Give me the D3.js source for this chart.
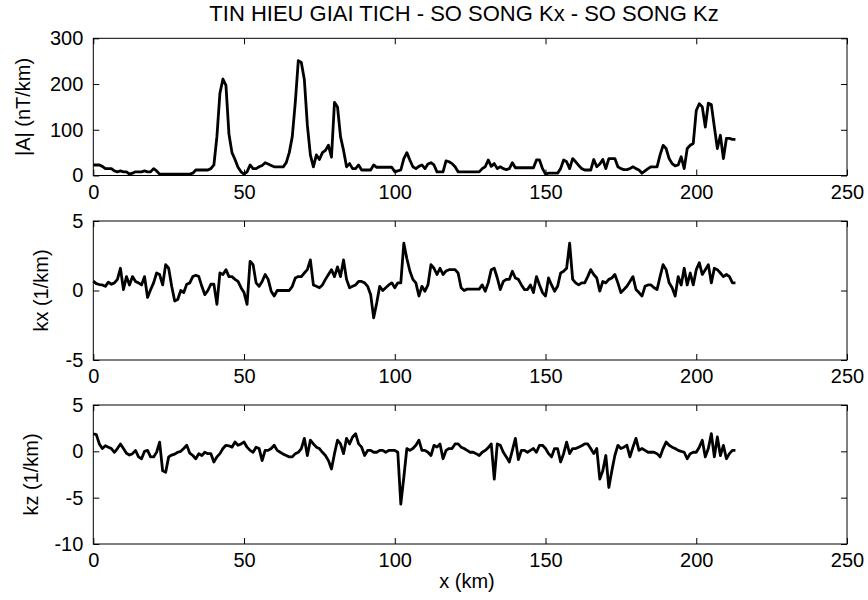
<!DOCTYPE html>
<html>
<head>
<meta charset="utf-8">
<script src="https://cdn.jsdelivr.net/npm/d3@7"></script>
<style>
  html, body { margin: 0; padding: 0; background: #fff; }
  svg text { font-family: "Liberation Sans", Arial, Helvetica, sans-serif; fill: #000; }
</style>
</head>
<body>
<div id="chart"></div>
<script>
// sample spacing along the profile (km)
const sampleStepKm = 1;

// |A| analytic signal amplitude (nT/km), one value per km from 0 to 213
const amplitude = [
  23,23,23,20,15,15,15,10,8,10,
  8,8,3,5,8,8,8,10,8,8,
  15,10,3,3,3,3,3,3,3,3,
  3,3,3,5,12,12,12,12,12,15,
  23,85,180,211,197,90,50,35,18,8,
  3,8,23,15,15,19,22,28,25,22,
  19,19,19,19,28,50,85,160,251,247,
  210,110,45,19,45,35,50,55,66,40,
  160,150,85,55,19,26,15,15,23,12,
  12,12,12,23,18,18,18,18,18,18,
  8,10,12,37,50,34,19,15,20,23,
  15,25,28,23,8,8,8,32,30,26,
  19,8,8,8,8,8,8,8,8,15,
  19,34,20,26,15,19,15,13,15,28,
  17,17,17,17,17,17,17,34,34,15,
  3,5,5,5,5,15,34,30,15,37,
  30,22,15,12,12,12,35,19,25,35,
  15,37,37,37,19,15,13,13,15,19,
  15,12,5,10,15,19,19,19,45,66,
  59,37,26,21,23,41,15,59,66,70,
  142,157,150,106,158,155,106,59,88,37,
  81,81,79,79
];

// kx wavenumber (1/km)
const kx = [
  0.67,0.5,0.43,0.4,0.3,0.6,0.45,0.55,0.8,1.6,
  0.07,1.0,0.4,1.0,0.65,0.55,0.4,1.0,-0.5,0.05,
  0.55,1.26,1.15,0.4,1.86,1.6,0.3,-0.76,-0.65,0.0,
  -0.15,0.45,0.55,1.0,1.1,1.0,0.3,-0.3,0.0,0.45,
  0.45,-1.0,1.26,1.15,1.5,1.0,1.0,0.8,0.65,0.2,
  -0.15,-1.0,2.1,1.86,0.55,0.3,0.65,1.15,0.8,-0.05,
  -0.4,0,0,0,0,0,0.3,0.9,1.0,1.0,
  1.26,1.5,2.2,0.4,0.3,0.2,0.4,0.8,1.15,1.5,
  1.0,1.7,1.0,2.2,0.8,0.2,0.3,0.4,0.65,0.65,
  0.55,0.3,-0.3,-1.96,-0.9,0.3,0.0,0.2,0.4,0.55,
  0.2,0.55,0.55,3.4,2.3,1.4,0.8,0.55,-0.4,0.3,
  -0.05,0.4,1.86,1.6,1.15,1.6,1.15,1.4,1.5,1.5,
  1.5,1.26,0.2,0.0,0.1,0.1,0.1,0.1,0.1,0.4,
  -0.05,0.55,1.5,1.6,0.9,0.07,0.65,0.8,0.8,1.38,
  0.9,0.8,0.4,0.07,0.07,0.4,-0.15,1.0,0.4,-0.15,
  -0.4,0.9,0.4,-0.05,0.3,1.26,1.38,1.6,3.4,0.8,
  0.55,0.4,0.55,0.55,1.0,1.5,1.15,0.9,-0.05,0.65,
  0.55,0.8,0.9,1.15,0.55,-0.15,0.07,0.3,0.65,1.0,
  0.07,-0.15,-0.4,0.3,0.4,0.4,0.2,0.07,1.0,1.86,
  1.5,0.55,0.2,-0.4,1.0,0.4,1.6,0.4,1.26,0.4,
  1.5,2.0,1.15,1.5,1.86,0.55,1.6,1.5,1.26,1.0,
  1.15,1.0,0.55,0.55
];

// kz wavenumber (1/km)
const kz = [
  1.9,1.8,0.8,0.3,0.6,0.45,0.3,-0.1,0.3,0.8,
  0.3,-0.2,-0.4,-0.25,0.1,-0.6,-0.8,0.0,0.1,-0.6,
  -0.6,-0.1,1.0,-2.1,-2.25,-0.6,-0.4,-0.3,-0.1,0.0,
  0.3,0.65,-0.2,-0.45,-0.8,-0.25,-0.45,-0.1,-0.25,-0.25,
  -1.15,-0.6,-0.25,0.3,0.65,0.6,0.45,1.0,0.65,0.8,
  1.0,0.45,0.1,-0.1,0.45,0.3,-1.0,0.1,0.1,0.3,
  0.65,0.1,-0.1,-0.3,-0.45,-0.6,-0.6,-0.25,-0.1,0.3,
  1.4,-0.45,1.2,0.8,0.45,0.3,-0.1,-0.45,-1.0,-1.9,
  -0.25,1.2,0.8,-0.25,1.4,0.8,1.55,1.9,0.8,0.45,
  -0.45,0.1,0.1,-0.1,-0.1,0.1,0.1,-0.1,0.1,0.1,
  0.1,-0.1,-5.7,-2.8,0.3,0.1,0.3,0.65,1.2,0.1,
  0.1,-0.1,-0.45,0.65,0.45,0.8,-0.8,0.1,0.3,0.3,
  0.8,0.8,0.45,0.3,0.1,-0.1,-0.1,-0.25,-0.45,-0.1,
  0.1,0.4,0.8,-3.0,0.8,0.65,-0.1,-0.6,-1.15,0.1,
  1.4,-0.9,0.1,0.1,-0.1,0.1,0.3,-0.1,0.65,0.65,
  0.3,-0.25,-0.6,0.3,0.3,-1.15,-0.25,1.0,-0.25,0.3,
  0.3,0.45,0.6,0.8,0.8,0.3,-0.25,0.3,-3.0,-2.1,
  -0.45,-3.9,-2.1,-0.45,0.65,0.3,0.45,0.65,-0.6,0.45,
  1.4,0.1,0.3,0.1,-0.1,-0.1,-0.1,-0.25,-0.6,0.3,
  1.0,0.65,0.45,0.3,0.1,0.0,-0.1,-0.8,-0.25,-0.1,
  -0.1,0.45,1.2,-0.6,0.3,1.9,-0.6,1.55,-0.45,0.65,
  -0.8,-0.25,0.1,0.1
];

// tick labels
const xTicks = [0, 50, 100, 150, 200, 250];
const ampTicks = [0, 100, 200, 300];
const kxTicks = [-5, 0, 5];
const kzTicks = [-10, -5, 0, 5];

const titleText = "TIN HIEU GIAI TICH - SO SONG Kx - SO SONG Kz";
const xLabel = "x (km)";

const W = 868, H = 600;
const left = 93.3, right = 847;
const tickLen = 6;
// plain hyphen for negatives, like matlab
const fmt = d => String(d);

const svg = d3.select("#chart").append("svg")
  .attr("width", W)
  .attr("height", H);

const xScale = d3.scaleLinear().domain([0, 250]).range([left, right]);

const panels = [
  { values: amplitude, domain: [0, 300], ticks: ampTicks, top: 38.3, bottom: 175.5, label: "|A| (nT/km)", labelX: 30 },
  { values: kx, domain: [-5, 5], ticks: kxTicks, top: 221, bottom: 360, label: "kx (1/km)", labelX: 48 },
  { values: kz, domain: [-10, 5], ticks: kzTicks, top: 405, bottom: 544, label: "kz (1/km)", labelX: 38 }
];

panels.forEach(p => {
  let yScale = d3.scaleLinear().domain(p.domain).range([p.bottom, p.top]);
  let g = svg.append("g");

  // data line
  let line = d3.line()
    .x((d, i) => xScale(i * sampleStepKm))
    .y(d => yScale(d));
  g.append("path")
    .datum(p.values)
    .attr("fill", "none")
    .attr("stroke", "#000")
    .attr("stroke-width", 2.8)
    .attr("stroke-linejoin", "round")
    .attr("d", line);

  // axes, ticks pointing inward like matlab
  let xAxisB = d3.axisBottom(xScale).tickValues(xTicks).tickSizeInner(-tickLen).tickSizeOuter(0).tickPadding(9).tickFormat(fmt);
  let xAxisT = d3.axisTop(xScale).tickValues(xTicks).tickSizeInner(-tickLen).tickSizeOuter(0).tickFormat("");
  let yAxisL = d3.axisLeft(yScale).tickValues(p.ticks).tickSizeInner(-tickLen).tickSizeOuter(0).tickPadding(10).tickFormat(fmt);
  let yAxisR = d3.axisRight(yScale).tickValues(p.ticks).tickSizeInner(-tickLen).tickSizeOuter(0).tickFormat("");

  let axes = [
    g.append("g").attr("transform", `translate(0,${p.bottom})`).call(xAxisB),
    g.append("g").attr("transform", `translate(0,${p.top})`).call(xAxisT),
    g.append("g").attr("transform", `translate(${left},0)`).call(yAxisL),
    g.append("g").attr("transform", `translate(${right},0)`).call(yAxisR)
  ];
  axes.forEach(a => {
    a.select(".domain").remove();
    a.selectAll("line").attr("stroke", "#000");
    a.selectAll("text").attr("font-size", 20).attr("fill", "#000")
      .style("font-family", '"Liberation Sans", Arial, sans-serif');
  });

  // box
  g.append("rect")
    .attr("x", left)
    .attr("y", p.top)
    .attr("width", right - left)
    .attr("height", p.bottom - p.top)
    .attr("fill", "none")
    .attr("stroke", "#000")
    .attr("stroke-width", 1);

  // y label
  g.append("text")
    .attr("transform", `translate(${p.labelX},${(p.top + p.bottom) / 2}) rotate(-90)`)
    .attr("text-anchor", "middle")
    .attr("font-size", 20)
    .text(p.label);
});

svg.append("text")
  .attr("x", 464)
  .attr("y", 21)
  .attr("text-anchor", "middle")
  .attr("font-size", 22)
  .text(titleText);

svg.append("text")
  .attr("x", 467)
  .attr("y", 588)
  .attr("text-anchor", "middle")
  .attr("font-size", 20)
  .text(xLabel);
</script>
</body>
</html>
